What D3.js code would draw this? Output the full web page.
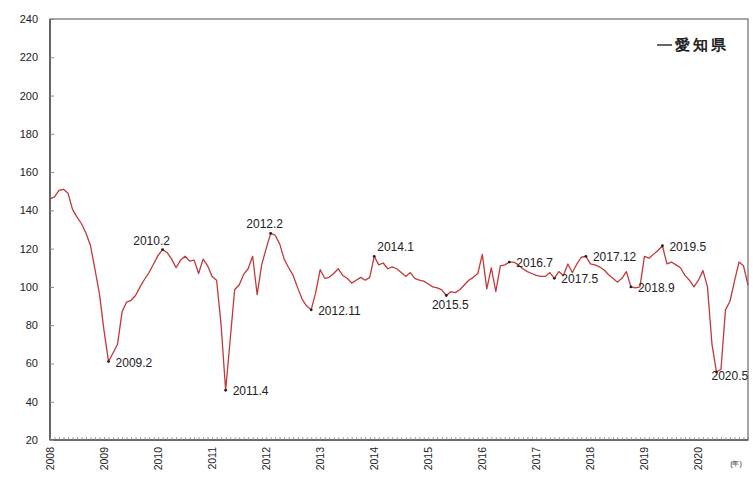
<!DOCTYPE html>
<html>
<head>
<meta charset="utf-8">
<script src="https://cdn.jsdelivr.net/npm/d3@7"></script>
<style>
  html, body { margin: 0; padding: 0; background: #fff; }
  svg { display: block; }
  text { font-family: "Liberation Sans", Arial, sans-serif; fill: #222; }
</style>
</head>
<body>
<svg id="chart" width="753" height="481"></svg>
<script>
// ---- data (monthly index, 2008.1 – 2020.12) ----
const seriesName = "愛知県";
const startYear = 2008;
const values = [
  146, 147, 150.5, 151, 149, 140.5, 136.5, 133, 128, 121.5, 109, 96,          // 2008
  77, 61, 65.5, 70, 87, 92, 93, 95.5, 100, 104, 107.5, 112,                   // 2009
  116.5, 119.5, 118, 114.5, 110, 114, 116, 113.5, 114, 107, 114.5, 111,       // 2010
  105.5, 103.5, 80, 46, 72, 98.5, 101, 106.5, 109.5, 116, 96, 111.5,          // 2011
  120, 128, 127, 122.5, 114.5, 110, 106, 99.5, 93.5, 90, 88, 97,              // 2012
  109, 104.5, 105, 107, 109.5, 106, 104.5, 102, 103.5, 105, 103.5, 105,       // 2013
  116, 111.5, 112.5, 109.5, 110.5, 109.5, 107.5, 105.5, 107.5, 104.5, 103.5, 103, // 2014
  101.5, 100, 99.5, 98.5, 95.5, 97.5, 97, 98.5, 101, 103.5, 105, 107,         // 2015
  117, 99, 110, 97.5, 111, 111.5, 113, 113, 111.5, 109.5, 108, 107,           // 2016
  106, 105.5, 105.5, 107.5, 104.5, 108, 106, 112, 107.5, 112, 115.5, 116,     // 2017
  112, 111.5, 110.5, 109, 106.5, 104.5, 102.5, 104.5, 108, 100, 99.5, 100,    // 2018
  116, 115, 117, 119, 121.5, 112, 113, 111.5, 110, 106, 103.5, 100,           // 2019
  103.5, 108.5, 100, 70, 55.5, 57, 88, 92.5, 103, 113, 111, 101               // 2020
];
const yearLabels = ["2008","2009","2010","2011","2012","2013","2014","2015","2016","2017","2018","2019","2020"];
const yTicks = [20, 40, 60, 80, 100, 120, 140, 160, 180, 200, 220, 240];
const annoLabels = ["2009.2","2010.2","2011.4","2012.2","2012.11","2014.1","2015.5","2016.7","2017.5","2017.12","2018.9","2019.5","2020.5"];
const annoIndex  = [13, 25, 39, 49, 58, 72, 88, 102, 112, 119, 129, 136, 148];
const xUnitLabel = "(年)";

// ---- layout ----
const svg = d3.select("#chart");
const L = 50, R = 748, T = 19, B = 440;

const x = d3.scaleLinear().domain([0, values.length - 1]).range([L, R]);
const y = d3.scaleLinear().domain([20, 240]).range([B, T]);

// frame
svg.append("rect").attr("x", L).attr("y", T).attr("width", R - L).attr("height", B - T)
  .attr("fill", "none").attr("stroke", "#777").attr("stroke-width", 1.3);
svg.append("line").attr("x1", L).attr("x2", L).attr("y1", T).attr("y2", B)
  .attr("stroke", "#555").attr("stroke-width", 1.6);
svg.append("line").attr("x1", L).attr("x2", R).attr("y1", B).attr("y2", B)
  .attr("stroke", "#555").attr("stroke-width", 1.6);

// y axis (ticks inside)
const yAxis = d3.axisLeft(y).tickValues(yTicks).tickSize(-4).tickPadding(12)
  .tickFormat(d3.format("d"));
const gy = svg.append("g").attr("transform", `translate(${L},0)`).call(yAxis);
gy.select(".domain").remove();
gy.selectAll(".tick line").attr("stroke", "#888");
gy.selectAll(".tick text").attr("font-size", 11).attr("fill", "#333")
  .attr("font-family", "\"Liberation Sans\", Arial, sans-serif");

// x axis: monthly ticks inside, year labels rotated
const monthTicks = d3.range(values.length);
const xAxis = d3.axisBottom(x).tickValues(monthTicks).tickSize(-3).tickFormat("");
const gx = svg.append("g").attr("transform", `translate(0,${B})`).call(xAxis);
gx.select(".domain").remove();
gx.selectAll(".tick line").attr("stroke", "#888").attr("stroke-width", 0.8);

const yearIdx = yearLabels.map((d, i) => i * 12);
svg.append("g").selectAll("text").data(yearLabels).join("text")
  .attr("transform", (d, i) => `translate(${x(yearIdx[i])},${B + 7}) rotate(-90)`)
  .attr("text-anchor", "end").attr("dy", "0.35em")
  .attr("font-size", 10.5).attr("fill", "#333")
  .text(d => d);

svg.append("text").attr("x", 736).attr("y", 466).attr("text-anchor", "middle")
  .attr("font-size", 7).attr("fill", "#555").text(xUnitLabel);

// line
const line = d3.line().x((d, i) => x(i)).y(d => y(d));
svg.append("path").datum(values).attr("d", line)
  .attr("fill", "none").attr("stroke", "#c0393b").attr("stroke-width", 1.3)
  .attr("stroke-linejoin", "round");

// annotations
const place = {
  "2010.2": [-11, -5, "middle"], "2012.2": [-6, -5, "middle"], "2014.1": [3, -5, "start"],
  "2015.5": [4, 13, "middle"], "2020.5": [-5, 8, "start"]
};
const ga = svg.append("g");
annoLabels.forEach((lab, k) => {
  const i = annoIndex[k];
  const px = x(i), py = y(values[i]);
  ga.append("circle").attr("cx", px).attr("cy", py).attr("r", 1.4).attr("fill", "#222");
  const p = place[lab] || [7, 5, "start"];
  ga.append("text").attr("x", px + p[0]).attr("y", py + p[1])
    .attr("text-anchor", p[2]).attr("font-size", 12).attr("fill", "#222")
    .text(lab);
});

// legend
svg.append("line").attr("x1", 657).attr("x2", 672).attr("y1", 45).attr("y2", 45)
  .attr("stroke", "#333").attr("stroke-width", 1.5);
svg.append("text").attr("x", 675).attr("y", 45).attr("dy", "0.36em")
  .attr("font-family", "\"Noto Sans CJK JP\", sans-serif")
  .attr("font-size", 15).attr("font-weight", "bold").attr("letter-spacing", 3)
  .attr("fill", "#333").text(seriesName);
</script>
</body>
</html>
